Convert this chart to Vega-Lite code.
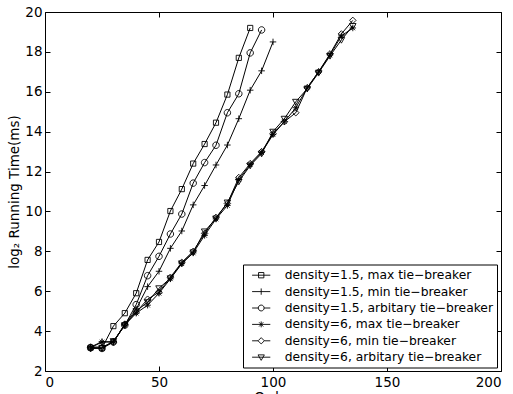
{
  "$schema": "https://vega.github.io/schema/vega-lite/v6.json",
  "width": 456,
  "height": 359,
  "autosize": {"type": "none"},
  "padding": {"left": 45, "top": 12, "right": 12, "bottom": 23},
  "background": "white",
  "config": {
    "view": {"stroke": null},
    "axis": {
      "grid": false,
      "domainColor": "black",
      "domainWidth": 1,
      "tickColor": "black",
      "tickWidth": 1,
      "tickSize": -5,
      "labelFont": "DejaVu Sans",
      "labelFontSize": 13.5,
      "labelColor": "black",
      "titleFont": "DejaVu Sans",
      "titleFontSize": 13.5,
      "titleFontWeight": "normal",
      "titleColor": "black"
    },
    "legend": {
      "labelFont": "DejaVu Sans",
      "labelFontSize": 12.3,
      "labelColor": "black"
    }
  },
  "data": {
    "values": [
      {"x": 20, "y": 3.17, "s": "density=1.5, max tie−breaker"},
      {"x": 25, "y": 3.15, "s": "density=1.5, max tie−breaker"},
      {"x": 30, "y": 4.25, "s": "density=1.5, max tie−breaker"},
      {"x": 35, "y": 4.9, "s": "density=1.5, max tie−breaker"},
      {"x": 40, "y": 5.9, "s": "density=1.5, max tie−breaker"},
      {"x": 45, "y": 7.57, "s": "density=1.5, max tie−breaker"},
      {"x": 50, "y": 8.47, "s": "density=1.5, max tie−breaker"},
      {"x": 55, "y": 10.02, "s": "density=1.5, max tie−breaker"},
      {"x": 60, "y": 11.12, "s": "density=1.5, max tie−breaker"},
      {"x": 65, "y": 12.4, "s": "density=1.5, max tie−breaker"},
      {"x": 70, "y": 13.38, "s": "density=1.5, max tie−breaker"},
      {"x": 75, "y": 14.45, "s": "density=1.5, max tie−breaker"},
      {"x": 80, "y": 15.86, "s": "density=1.5, max tie−breaker"},
      {"x": 85, "y": 17.7, "s": "density=1.5, max tie−breaker"},
      {"x": 90, "y": 19.2, "s": "density=1.5, max tie−breaker"},

      {"x": 20, "y": 3.2, "s": "density=1.5, min tie−breaker"},
      {"x": 25, "y": 3.47, "s": "density=1.5, min tie−breaker"},
      {"x": 30, "y": 3.45, "s": "density=1.5, min tie−breaker"},
      {"x": 35, "y": 4.35, "s": "density=1.5, min tie−breaker"},
      {"x": 40, "y": 5.1, "s": "density=1.5, min tie−breaker"},
      {"x": 45, "y": 6.23, "s": "density=1.5, min tie−breaker"},
      {"x": 50, "y": 7.0, "s": "density=1.5, min tie−breaker"},
      {"x": 55, "y": 8.15, "s": "density=1.5, min tie−breaker"},
      {"x": 60, "y": 9.02, "s": "density=1.5, min tie−breaker"},
      {"x": 65, "y": 10.33, "s": "density=1.5, min tie−breaker"},
      {"x": 70, "y": 11.3, "s": "density=1.5, min tie−breaker"},
      {"x": 75, "y": 12.33, "s": "density=1.5, min tie−breaker"},
      {"x": 80, "y": 13.33, "s": "density=1.5, min tie−breaker"},
      {"x": 85, "y": 14.65, "s": "density=1.5, min tie−breaker"},
      {"x": 90, "y": 16.08, "s": "density=1.5, min tie−breaker"},
      {"x": 95, "y": 17.05, "s": "density=1.5, min tie−breaker"},
      {"x": 100, "y": 18.5, "s": "density=1.5, min tie−breaker"},

      {"x": 20, "y": 3.17, "s": "density=1.5, arbitary tie−breaker"},
      {"x": 25, "y": 3.13, "s": "density=1.5, arbitary tie−breaker"},
      {"x": 30, "y": 3.45, "s": "density=1.5, arbitary tie−breaker"},
      {"x": 35, "y": 4.3, "s": "density=1.5, arbitary tie−breaker"},
      {"x": 40, "y": 5.33, "s": "density=1.5, arbitary tie−breaker"},
      {"x": 45, "y": 6.78, "s": "density=1.5, arbitary tie−breaker"},
      {"x": 50, "y": 7.75, "s": "density=1.5, arbitary tie−breaker"},
      {"x": 55, "y": 8.87, "s": "density=1.5, arbitary tie−breaker"},
      {"x": 60, "y": 9.87, "s": "density=1.5, arbitary tie−breaker"},
      {"x": 65, "y": 11.42, "s": "density=1.5, arbitary tie−breaker"},
      {"x": 70, "y": 12.45, "s": "density=1.5, arbitary tie−breaker"},
      {"x": 75, "y": 13.32, "s": "density=1.5, arbitary tie−breaker"},
      {"x": 80, "y": 14.95, "s": "density=1.5, arbitary tie−breaker"},
      {"x": 85, "y": 15.9, "s": "density=1.5, arbitary tie−breaker"},
      {"x": 90, "y": 17.95, "s": "density=1.5, arbitary tie−breaker"},
      {"x": 95, "y": 19.1, "s": "density=1.5, arbitary tie−breaker"},

      {"x": 20, "y": 3.17, "s": "density=6, max tie−breaker"},
      {"x": 25, "y": 3.45, "s": "density=6, max tie−breaker"},
      {"x": 30, "y": 3.47, "s": "density=6, max tie−breaker"},
      {"x": 35, "y": 4.3, "s": "density=6, max tie−breaker"},
      {"x": 40, "y": 4.9, "s": "density=6, max tie−breaker"},
      {"x": 45, "y": 5.3, "s": "density=6, max tie−breaker"},
      {"x": 50, "y": 5.9, "s": "density=6, max tie−breaker"},
      {"x": 55, "y": 6.62, "s": "density=6, max tie−breaker"},
      {"x": 60, "y": 7.38, "s": "density=6, max tie−breaker"},
      {"x": 65, "y": 7.92, "s": "density=6, max tie−breaker"},
      {"x": 70, "y": 8.8, "s": "density=6, max tie−breaker"},
      {"x": 75, "y": 9.62, "s": "density=6, max tie−breaker"},
      {"x": 80, "y": 10.3, "s": "density=6, max tie−breaker"},
      {"x": 85, "y": 11.6, "s": "density=6, max tie−breaker"},
      {"x": 90, "y": 12.35, "s": "density=6, max tie−breaker"},
      {"x": 95, "y": 12.95, "s": "density=6, max tie−breaker"},
      {"x": 100, "y": 13.85, "s": "density=6, max tie−breaker"},
      {"x": 105, "y": 14.5, "s": "density=6, max tie−breaker"},
      {"x": 110, "y": 15.2, "s": "density=6, max tie−breaker"},
      {"x": 115, "y": 16.2, "s": "density=6, max tie−breaker"},
      {"x": 120, "y": 17.0, "s": "density=6, max tie−breaker"},
      {"x": 125, "y": 17.85, "s": "density=6, max tie−breaker"},
      {"x": 130, "y": 18.8, "s": "density=6, max tie−breaker"},
      {"x": 135, "y": 19.2, "s": "density=6, max tie−breaker"},

      {"x": 20, "y": 3.2, "s": "density=6, min tie−breaker"},
      {"x": 25, "y": 3.2, "s": "density=6, min tie−breaker"},
      {"x": 30, "y": 3.45, "s": "density=6, min tie−breaker"},
      {"x": 35, "y": 4.35, "s": "density=6, min tie−breaker"},
      {"x": 40, "y": 4.95, "s": "density=6, min tie−breaker"},
      {"x": 45, "y": 5.6, "s": "density=6, min tie−breaker"},
      {"x": 50, "y": 5.95, "s": "density=6, min tie−breaker"},
      {"x": 55, "y": 6.7, "s": "density=6, min tie−breaker"},
      {"x": 60, "y": 7.45, "s": "density=6, min tie−breaker"},
      {"x": 65, "y": 8.0, "s": "density=6, min tie−breaker"},
      {"x": 70, "y": 8.9, "s": "density=6, min tie−breaker"},
      {"x": 75, "y": 9.7, "s": "density=6, min tie−breaker"},
      {"x": 80, "y": 10.4, "s": "density=6, min tie−breaker"},
      {"x": 85, "y": 11.7, "s": "density=6, min tie−breaker"},
      {"x": 90, "y": 12.4, "s": "density=6, min tie−breaker"},
      {"x": 95, "y": 13.0, "s": "density=6, min tie−breaker"},
      {"x": 100, "y": 13.9, "s": "density=6, min tie−breaker"},
      {"x": 105, "y": 14.5, "s": "density=6, min tie−breaker"},
      {"x": 110, "y": 14.95, "s": "density=6, min tie−breaker"},
      {"x": 115, "y": 16.2, "s": "density=6, min tie−breaker"},
      {"x": 120, "y": 17.0, "s": "density=6, min tie−breaker"},
      {"x": 125, "y": 17.9, "s": "density=6, min tie−breaker"},
      {"x": 130, "y": 18.9, "s": "density=6, min tie−breaker"},
      {"x": 135, "y": 19.58, "s": "density=6, min tie−breaker"},

      {"x": 20, "y": 3.12, "s": "density=6, arbitary tie−breaker"},
      {"x": 25, "y": 3.15, "s": "density=6, arbitary tie−breaker"},
      {"x": 30, "y": 3.5, "s": "density=6, arbitary tie−breaker"},
      {"x": 35, "y": 4.3, "s": "density=6, arbitary tie−breaker"},
      {"x": 40, "y": 5.0, "s": "density=6, arbitary tie−breaker"},
      {"x": 45, "y": 5.45, "s": "density=6, arbitary tie−breaker"},
      {"x": 50, "y": 6.15, "s": "density=6, arbitary tie−breaker"},
      {"x": 55, "y": 6.65, "s": "density=6, arbitary tie−breaker"},
      {"x": 60, "y": 7.4, "s": "density=6, arbitary tie−breaker"},
      {"x": 65, "y": 7.95, "s": "density=6, arbitary tie−breaker"},
      {"x": 70, "y": 9.0, "s": "density=6, arbitary tie−breaker"},
      {"x": 75, "y": 9.65, "s": "density=6, arbitary tie−breaker"},
      {"x": 80, "y": 10.45, "s": "density=6, arbitary tie−breaker"},
      {"x": 85, "y": 11.5, "s": "density=6, arbitary tie−breaker"},
      {"x": 90, "y": 12.3, "s": "density=6, arbitary tie−breaker"},
      {"x": 95, "y": 12.9, "s": "density=6, arbitary tie−breaker"},
      {"x": 100, "y": 14.0, "s": "density=6, arbitary tie−breaker"},
      {"x": 105, "y": 14.65, "s": "density=6, arbitary tie−breaker"},
      {"x": 110, "y": 15.5, "s": "density=6, arbitary tie−breaker"},
      {"x": 115, "y": 16.15, "s": "density=6, arbitary tie−breaker"},
      {"x": 120, "y": 16.95, "s": "density=6, arbitary tie−breaker"},
      {"x": 125, "y": 17.8, "s": "density=6, arbitary tie−breaker"},
      {"x": 130, "y": 18.6, "s": "density=6, arbitary tie−breaker"},
      {"x": 135, "y": 19.3, "s": "density=6, arbitary tie−breaker"}
    ]
  },
  "layer": [
    {
      "mark": {"type": "line", "color": "black", "strokeWidth": 1},
      "encoding": {
        "x": {"field": "x", "type": "quantitative", "scale": {"domain": [0, 200], "nice": false},
              "axis": {"orient": "bottom", "values": [0, 50, 100, 150, 200], "title": "Order", "labelPadding": 9.5, "titlePadding": 1}},
        "y": {"field": "y", "type": "quantitative", "scale": {"domain": [2, 20], "nice": false, "zero": false},
              "axis": {"orient": "left", "values": [2, 4, 6, 8, 10, 12, 14, 16, 18, 20], "title": "log₂ Running Time(ms)", "labelPadding": 8, "titlePadding": 3}},
        "detail": {"field": "s"}
      }
    },
    {
      "mark": {"type": "point", "filled": false, "stroke": "black", "strokeWidth": 0.9, "size": 42, "opacity": 1},
      "encoding": {
        "x": {"field": "x", "type": "quantitative",
              "axis": {"orient": "top", "values": [0, 50, 100, 150, 200], "labels": false, "title": null}},
        "y": {"field": "y", "type": "quantitative",
              "axis": {"orient": "right", "values": [2, 4, 6, 8, 10, 12, 14, 16, 18, 20], "labels": false, "title": null}},
        "shape": {
          "field": "s", "type": "nominal",
          "scale": {
            "domain": ["density=1.5, max tie−breaker", "density=1.5, min tie−breaker", "density=1.5, arbitary tie−breaker", "density=6, max tie−breaker", "density=6, min tie−breaker", "density=6, arbitary tie−breaker"],
            "range": ["M-0.8,-0.8H0.8V0.8H-0.8Z", "M-1,0H1M0,-1V1", "M-1,0A1,1,0,1,0,1,0A1,1,0,1,0,-1,0Z", "M-1,0H1M0,-1V1M-0.7,-0.7L0.7,0.7M-0.7,0.7L0.7,-0.7", "M0,-1L1,0L0,1L-1,0Z", "M-1,-0.75H1L0,1Z"]
          },
          "legend": null
        }
      }
    },
    {
      "transform": [{"filter": "datum.x > 1000"}],
      "mark": {"type": "point", "filled": false, "stroke": "black", "strokeWidth": 0.9, "opacity": 1},
      "encoding": {
        "x": {"field": "x", "type": "quantitative", "axis": null},
        "y": {"field": "y", "type": "quantitative", "axis": null},
        "shape": {
          "field": "s", "type": "nominal",
          "scale": {
            "domain": ["density=1.5, max tie−breaker", "density=1.5, min tie−breaker", "density=1.5, arbitary tie−breaker", "density=6, max tie−breaker", "density=6, min tie−breaker", "density=6, arbitary tie−breaker"],
            "range": ["M-1.3,0H1.3M-0.38,-0.38H0.38V0.38H-0.38Z", "M-1.3,0H1.3M0,-0.45V0.45", "M-1.3,0H-0.42M0.42,0H1.3M-0.42,0A0.42,0.42,0,1,0,0.42,0A0.42,0.42,0,1,0,-0.42,0Z", "M-1.3,0H1.3M0,-0.42V0.42M-0.3,-0.3L0.3,0.3M-0.3,0.3L0.3,-0.3", "M-1.3,0H-0.45M0.45,0H1.3M0,-0.45L0.45,0L0,0.45L-0.45,0Z", "M-1.3,0H1.3M-0.45,-0.33H0.45L0,0.45Z"]
          },
          "legend": {
            "title": null,
            "orient": "none",
            "legendX": 198,
            "legendY": 252.5,
            "padding": 3.2,
            "symbolOffset": 7.5,
            "labelOffset": 16,
            "rowPadding": 2.4,
            "symbolSize": 196,
            "symbolStrokeColor": "black",
            "symbolFillColor": "transparent",
            "symbolStrokeWidth": 0.9,
            "strokeColor": "black",
            "fillColor": "white",
            "cornerRadius": 0,
            "labelLimit": 400
          }
        }
      }
    }
  ],
  "resolve": {"axis": {"x": "independent", "y": "independent"}, "scale": {"shape": "independent"}}
}
